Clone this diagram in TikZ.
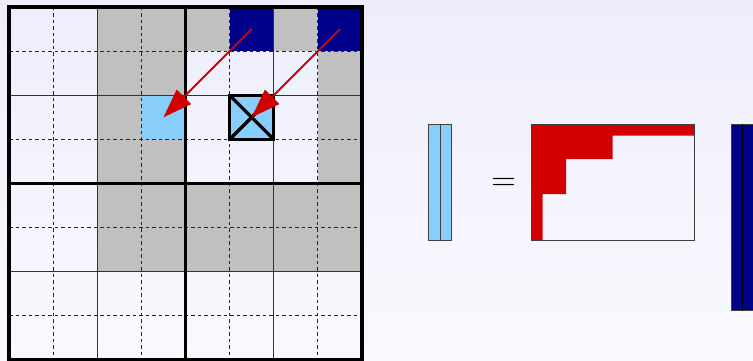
\documentclass[tikz,border=0pt]{standalone}
\usetikzlibrary{arrows.meta}
\definecolor{bgtop}{RGB}{238,238,251}
\definecolor{bgbot}{RGB}{249,249,255}
\definecolor{cellgray}{RGB}{192,192,192}
\definecolor{navyc}{RGB}{0,0,136}
\definecolor{skyc}{RGB}{135,206,250}
\definecolor{redc}{RGB}{210,0,0}
\tikzset{
  graycell/.style={fill=cellgray},
  navycell/.style={fill=navyc},
  skycell/.style={fill=skyc},
  dashline/.style={draw=black!85, line width=0.8pt, dash pattern=on 3.5pt off 3pt},
  thinline/.style={draw=black!80, line width=0.9pt},
  thickline/.style={draw=black, line width=3.5pt},
  markbox/.style={draw=black, line width=3.2pt},
  redarrow/.style={draw=redc, line width=2pt, -{Triangle[length=29pt,width=20pt]}},
  smallbox/.style={draw=black!75, line width=0.9pt},
}
\begin{document}
\begin{tikzpicture}[x=1pt,y=-1pt]
\clip (0,0) rectangle (753,361);
\shade[top color=bgtop,bottom color=bgbot] (0,0) rectangle (753,361);
\begin{scope}[shift={(9,7)},x=44.125pt,y=-44.125pt]
  % fills
  \fill[graycell] (2,0) rectangle (5,1);
  \fill[graycell] (6,0) rectangle (7,1);
  \fill[navycell] (5,0) rectangle (6,1);
  \fill[navycell] (7,0) rectangle (8,1);
  \fill[graycell] (2,1) rectangle (4,4);
  \fill[graycell] (7,1) rectangle (8,4);
  \fill[graycell] (2,4) rectangle (8,6);
  \fill[skycell] (3,2) rectangle (4,3);
  \fill[skycell] (5,2) rectangle (6,3);
  % grid lines
  \foreach \i in {1,3,5,7} {
    \draw[dashline] (\i,0) -- (\i,8);
    \draw[dashline] (0,\i) -- (8,\i);
  }
  \foreach \i in {2,6} {
    \draw[thinline] (\i,0) -- (\i,8);
    \draw[thinline] (0,\i) -- (8,\i);
  }
  \draw[thickline] (4,0) -- (4,8);
  \draw[thickline] (0,4) -- (8,4);
  \draw[thickline] (0,0) rectangle (8,8);
  % marked cell
  \draw[markbox] (5,2) rectangle (6,3);
  \draw[markbox] (5,2) -- (6,3);
  \draw[markbox] (6,2) -- (5,3);
  % arrow anchors
  \coordinate (s1) at (5.5,0.5);
  \coordinate (t1) at (3.5,2.5);
  \coordinate (s2) at (7.5,0.5);
  \coordinate (t2) at (5.5,2.5);
  \draw[redarrow] (s1) -- (t1);
  \draw[redarrow] (s2) -- (t2);
\end{scope}
% right part
\draw[smallbox, fill=skyc] (428.3,124) rectangle (451.7,240.7);
\draw[smallbox] (440,124) -- (440,240.7);
\node[inner sep=0pt] (eq) at (503.7,184.4) {\fontsize{34}{40}\selectfont =};
\fill[redc] (531,124) -- (694.3,124) -- (694.3,135.67) -- (612.67,135.67)
  -- (612.67,159) -- (566,159) -- (566,194) -- (542.67,194) -- (542.67,240.7)
  -- (531,240.7) -- cycle;
\draw[smallbox] (531,124) rectangle (694.3,240.7);
\draw[smallbox, fill=navyc] (731,124) rectangle (754.3,310.7);
\draw[draw=black, line width=0.9pt] (742.7,124) -- (742.7,310.7);
\end{tikzpicture}
\end{document}
